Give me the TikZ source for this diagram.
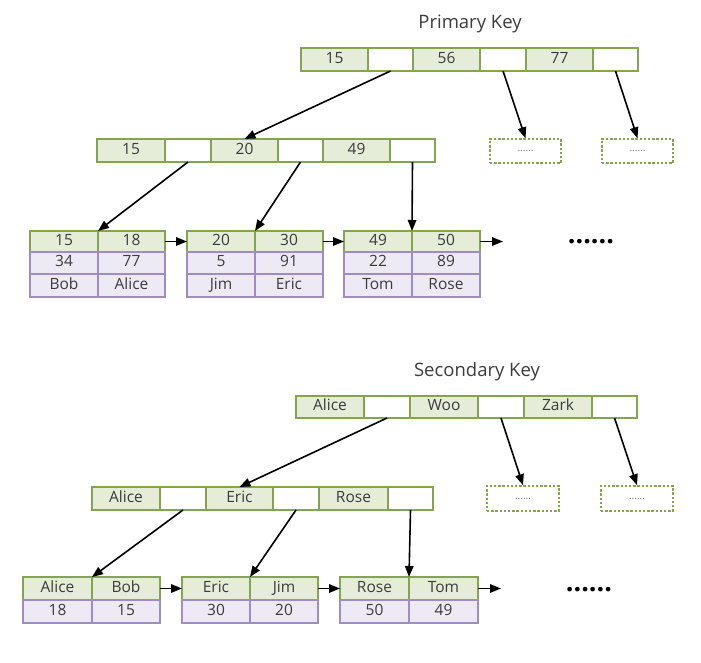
\documentclass[tikz,border=0pt]{standalone}
\usepackage{fontspec}
\setmainfont{Open Sans}
\usetikzlibrary{arrows.meta}
\definecolor{gfill}{HTML}{E5EDD8}
\definecolor{gline}{HTML}{84A450}
\definecolor{pfill}{HTML}{EDEAF6}
\definecolor{pline}{HTML}{9E8CC8}
\definecolor{ink}{HTML}{3C3C3C}
\tikzset{
  cellbase/.style={rectangle,inner sep=0pt,outer sep=0pt,line width=1.6pt,text=ink,
    text height=0.72em,text depth=0em,font=\fontsize{15.5}{17}\selectfont},
  keycell/.style={cellbase,draw=gline,fill=gfill},
  ptrcell/.style={cellbase,draw=gline,fill=white},
  rowcell/.style={cellbase,draw=pline,fill=pfill},
  stubbox/.style={rectangle,inner sep=0pt,draw=gline,line width=1.5pt,dash pattern=on 2.4pt off 1.8pt,text=ink!70,font=\fontsize{10}{10}\selectfont},
  link/.style={-{Triangle[length=11pt,width=8.5pt]},line width=1.6pt,black},
  title/.style={text=ink,font=\fontsize{18.5}{20}\selectfont},
  more/.style={text=black,font=\fontsize{27}{27}\selectfont\bfseries}
}
% \bx{style}{name}{x1}{y1}{x2}{y2}{text}: box spanning two corners
\newcommand\bx[7]{%
  \pgfmathsetmacro\bxw{#5-#3}\pgfmathsetmacro\bxh{#6-#4}%
  \node[#1,minimum width=\bxw pt,minimum height=\bxh pt] (#2) at ({(#3+#5)/2},{(#4+#6)/2}) {#7};}
\begin{document}
\begin{tikzpicture}[x=1pt,y=-1pt]
\useasboundingbox[fill=white] (0,0) rectangle (701,662);

%%%%%%%%%%%%%%%% primary key index
\node[title] (ptitle) at (470,24) {Primary Key};
% root
\bx{keycell}{pr0}{301}{48}{368}{71}{15}
\bx{ptrcell}{pr1}{368}{48}{413}{71}{}
\bx{keycell}{pr2}{413}{48}{480}{71}{56}
\bx{ptrcell}{pr3}{480}{48}{526}{71}{}
\bx{keycell}{pr4}{526}{48}{593}{71}{77}
\bx{ptrcell}{pr5}{593}{48}{638}{71}{}
% unexpanded subtrees
\bx{stubbox}{pd1}{490}{139}{561}{163}{......}
\bx{stubbox}{pd2}{602}{139}{673}{163}{......}
% internal node
\bx{keycell}{pm0}{97}{139}{165}{162}{15}
\bx{ptrcell}{pm1}{165}{139}{211}{162}{}
\bx{keycell}{pm2}{211}{139}{278}{162}{20}
\bx{ptrcell}{pm3}{278}{139}{323}{162}{}
\bx{keycell}{pm4}{323}{139}{390}{162}{49}
\bx{ptrcell}{pm5}{390}{139}{435}{162}{}
% leaves: key / value / name
\bx{keycell}{pa1}{30}{231}{98}{252}{15}
\bx{keycell}{pa2}{98}{231}{165}{252}{18}
\bx{rowcell}{pa3}{30}{252}{98}{274}{34}
\bx{rowcell}{pa4}{98}{252}{165}{274}{77}
\bx{rowcell}{pa5}{30}{274}{98}{297}{Bob}
\bx{rowcell}{pa6}{98}{274}{165}{297}{Alice}
\bx{keycell}{pb1}{187}{231}{255}{252}{20}
\bx{keycell}{pb2}{255}{231}{323}{252}{30}
\bx{rowcell}{pb3}{187}{252}{255}{274}{5}
\bx{rowcell}{pb4}{255}{252}{323}{274}{91}
\bx{rowcell}{pb5}{187}{274}{255}{297}{Jim}
\bx{rowcell}{pb6}{255}{274}{323}{297}{Eric}
\bx{keycell}{pc1}{344}{231}{412}{252}{49}
\bx{keycell}{pc2}{412}{231}{480}{252}{50}
\bx{rowcell}{pc3}{344}{252}{412}{274}{22}
\bx{rowcell}{pc4}{412}{252}{480}{274}{89}
\bx{rowcell}{pc5}{344}{274}{412}{297}{Tom}
\bx{rowcell}{pc6}{412}{274}{480}{297}{Rose}
\coordinate (pnext) at (503,241.5);
\node[more] (pmore) at (591,242) {......};
% links
\draw[link] (pr1.south) -- (pm2.north);
\draw[link] (pr3.south) -- (pd1.north);
\draw[link] (pr5.south) -- (pd2.north);
\draw[link] (pm1.south) -- (pa1.north east);
\draw[link] (pm3.south) -- (pb1.north east);
\draw[link] (pm5.south) -- (pc1.north east);
\draw[link] (pa2.east) -- (pb1.west);
\draw[link] (pb2.east) -- (pc1.west);
\draw[link] (pc2.east) -- (pnext);

%%%%%%%%%%%%%%%% secondary key index
\node[title] (stitle) at (477,372) {Secondary Key};
% root
\bx{keycell}{sr0}{296}{396}{364}{418}{Alice}
\bx{ptrcell}{sr1}{364}{396}{410}{418}{}
\bx{keycell}{sr2}{410}{396}{478}{418}{Woo}
\bx{ptrcell}{sr3}{478}{396}{524}{418}{}
\bx{keycell}{sr4}{524}{396}{592}{418}{Zark}
\bx{ptrcell}{sr5}{592}{396}{637}{418}{}
% unexpanded subtrees
\bx{stubbox}{sd1}{487}{486}{559}{511}{......}
\bx{stubbox}{sd2}{601}{486}{673}{511}{......}
% internal node
\bx{keycell}{sm0}{92}{487}{160}{510}{Alice}
\bx{ptrcell}{sm1}{160}{487}{206}{510}{}
\bx{keycell}{sm2}{206}{487}{273}{510}{Eric}
\bx{ptrcell}{sm3}{273}{487}{319}{510}{}
\bx{keycell}{sm4}{319}{487}{388}{510}{Rose}
\bx{ptrcell}{sm5}{388}{487}{433}{510}{}
% leaves: name / primary key
\bx{keycell}{sa1}{23}{577}{92}{600}{Alice}
\bx{keycell}{sa2}{92}{577}{160}{600}{Bob}
\bx{rowcell}{sa3}{23}{600}{92}{623}{18}
\bx{rowcell}{sa4}{92}{600}{160}{623}{15}
\bx{keycell}{sb1}{182}{577}{250}{600}{Eric}
\bx{keycell}{sb2}{250}{577}{318}{600}{Jim}
\bx{rowcell}{sb3}{182}{600}{250}{623}{30}
\bx{rowcell}{sb4}{250}{600}{318}{623}{20}
\bx{keycell}{sc1}{340}{577}{409}{600}{Rose}
\bx{keycell}{sc2}{409}{577}{478}{600}{Tom}
\bx{rowcell}{sc3}{340}{600}{409}{623}{50}
\bx{rowcell}{sc4}{409}{600}{478}{623}{49}
\coordinate (snext) at (501,588.5);
\node[more] (smore) at (589,590) {......};
% links
\draw[link] (sr1.south) -- (sm2.north);
\draw[link] (sr3.south) -- (sd1.north);
\draw[link] (sr5.south) -- (sd2.north);
\draw[link] (sm1.south) -- (sa1.north east);
\draw[link] (sm3.south) -- (sb1.north east);
\draw[link] (sm5.south) -- (sc1.north east);
\draw[link] (sa2.east) -- (sb1.west);
\draw[link] (sb2.east) -- (sc1.west);
\draw[link] (sc2.east) -- (snext);
\end{tikzpicture}
\end{document}
